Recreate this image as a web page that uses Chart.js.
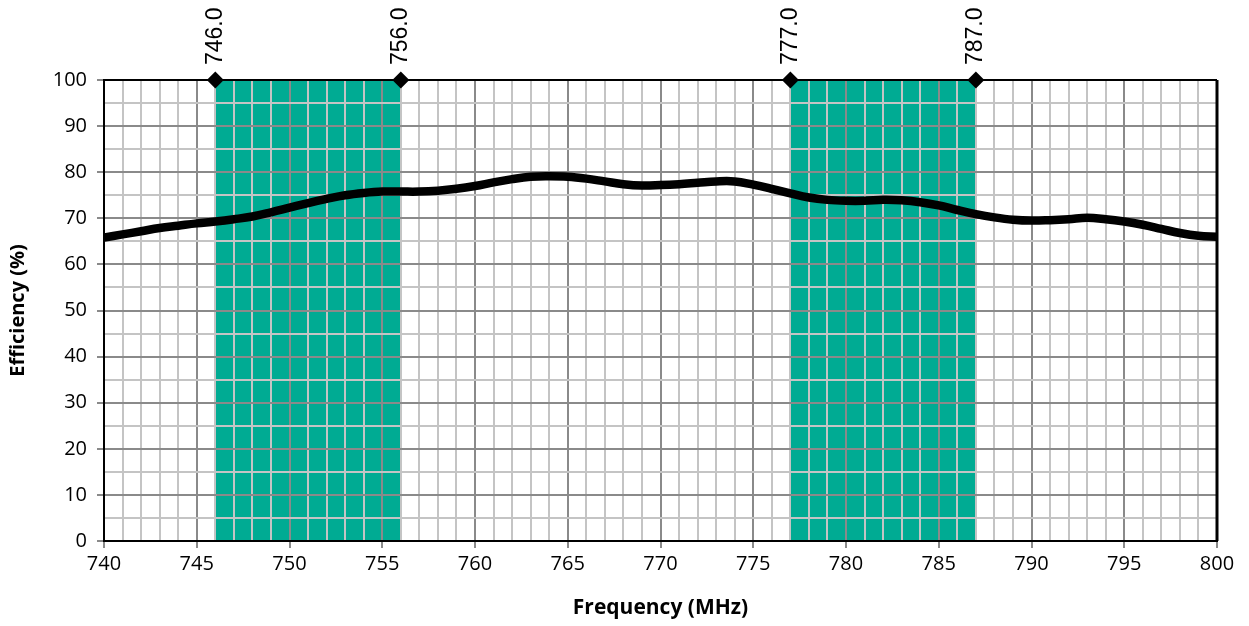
<!DOCTYPE html>
<html>
<head>
<meta charset="utf-8">
<script src="https://cdn.jsdelivr.net/npm/chart.js@4.4.1/dist/chart.umd.min.js"></script>
<style>
  html, body { margin: 0; padding: 0; background: #fff; }
  #wrap { width: 1249px; height: 626px; }
</style>
</head>
<body>
<div id="wrap"><canvas id="effChart"></canvas></div>
<script>
// ── data ──
const freqs = [
  740,741,742,743,744,745,746,747,748,749,750,751,752,753,754,755,756,757,758,759,760,
  761,762,763,764,765,766,767,768,769,770,771,772,773,774,775,776,777,778,779,780,
  781,782,783,784,785,786,787,788,789,790,791,792,793,794,795,796,797,798,799,800
];
const efficiency = [
  65.8,66.5,67.2,67.9,68.4,68.9,69.3,69.8,70.4,71.3,72.3,73.3,74.2,75.0,75.5,75.8,75.8,75.8,76.0,76.4,77.0,
  77.8,78.5,79.0,79.1,79.0,78.6,78.0,77.4,77.1,77.2,77.4,77.7,78.0,78.0,77.3,76.4,75.4,74.5,74.0,73.8,
  73.8,74.0,73.9,73.5,72.8,71.8,70.9,70.2,69.7,69.5,69.6,69.8,70.1,69.8,69.3,68.6,67.7,66.8,66.2,66.0
];
const bandStarts = [746, 777];
const bandEnds   = [756, 787];
const markerFreqs = [746, 756, 777, 787];
const markerLabels = ['746.0', '756.0', '777.0', '787.0'];

const TEAL = '#00ab93';

// ── bands behind the grid, frame + marker labels on top ──
const bandsPlugin = {
  id: 'bands',
  beforeDraw(chart) {
    const { ctx, chartArea: a, scales: { x } } = chart;
    ctx.save();
    ctx.fillStyle = TEAL;
    bandStarts.forEach((s, i) => {
      const x0 = x.getPixelForValue(s), x1 = x.getPixelForValue(bandEnds[i]);
      ctx.fillRect(x0, a.top, x1 - x0, a.bottom - a.top);
    });
    ctx.restore();
  },
  afterDraw(chart) {
    const { ctx, chartArea: a, scales: { x } } = chart;
    ctx.save();
    ctx.strokeStyle = '#000';
    ctx.lineWidth = 2;
    ctx.beginPath();
    ctx.moveTo(a.left, a.top); ctx.lineTo(a.right, a.top);
    ctx.stroke();
    ctx.lineWidth = 3;
    ctx.beginPath();
    ctx.moveTo(a.right, a.top); ctx.lineTo(a.right, a.bottom);
    ctx.stroke();
    // diamonds
    ctx.fillStyle = '#000';
    markerFreqs.forEach(f => {
      const px = x.getPixelForValue(f), r = 8.5;
      ctx.beginPath();
      ctx.moveTo(px, a.top - r); ctx.lineTo(px + r, a.top);
      ctx.lineTo(px, a.top + r); ctx.lineTo(px - r, a.top);
      ctx.closePath(); ctx.fill();
    });
    // rotated labels
    ctx.font = '23px "Liberation Sans", Arial, sans-serif';
    ctx.textAlign = 'left';
    ctx.textBaseline = 'middle';
    markerFreqs.forEach((f, i) => {
      const px = x.getPixelForValue(f);
      ctx.save();
      ctx.translate(px, a.top - 15);
      ctx.rotate(-Math.PI / 2);
      ctx.fillText(markerLabels[i], 0, 0);
      ctx.restore();
    });
    ctx.restore();
  }
};

const gridColor = c => (c.tick && c.tick.major) ? '#8a8a8a' : '#c4c4c4';

new Chart(document.getElementById('effChart'), {
  type: 'line',
  data: {
    datasets: [{
      data: freqs.map((f, i) => ({ x: f, y: efficiency[i] })),
      borderColor: '#000', borderWidth: 8.5,
      pointRadius: 0, tension: 0.4, fill: false
    }]
  },
  options: {
    responsive: true, maintainAspectRatio: false,
    animation: false,
    layout: { padding: { top: 80, right: 32, left: 0, bottom: 0 } },
    plugins: { legend: { display: false }, tooltip: { enabled: false } },
    scales: {
      x: {
        type: 'linear', min: 740, max: 800,
        afterFit: s => { s.height = 85; },
        afterBuildTicks: s => { s.ticks.forEach(t => { t.major = t.value % 5 === 0; }); },
        ticks: {
          stepSize: 1, autoSkip: false, maxRotation: 0, padding: 4,
          color: '#000', font: { family: '"Open Sans", sans-serif', size: 20 },
          callback: v => v % 5 === 0 ? v : ''
        },
        grid: {
          color: gridColor, lineWidth: 2, tickLength: 7,
          tickColor: c => (c.tick && c.tick.value % 5 === 0) ? '#8a8a8a' : 'rgba(0,0,0,0)'
        },
        border: { color: '#000', width: 2 },
        title: {
          display: true, text: 'Frequency (MHz)', color: '#000',
          font: { family: '"Open Sans", sans-serif', size: 21, weight: 'bold' },
          padding: { top: 0, bottom: 5 }
        }
      },
      y: {
        min: 0, max: 100,
        afterFit: s => { s.width = 104; },
        afterBuildTicks: s => { s.ticks.forEach(t => { t.major = t.value % 10 === 0; }); },
        ticks: {
          stepSize: 5, autoSkip: false, padding: 10,
          color: '#000', font: { family: '"Open Sans", sans-serif', size: 20 },
          callback: v => v % 10 === 0 ? v : ''
        },
        grid: {
          color: gridColor, lineWidth: 2, tickLength: 7,
          tickColor: c => (c.tick && c.tick.value % 10 === 0) ? '#8a8a8a' : 'rgba(0,0,0,0)'
        },
        border: { color: '#000', width: 2 },
        title: {
          display: true, text: 'Efficiency (%)', color: '#000',
          font: { family: '"Open Sans", sans-serif', size: 20, weight: 'bold' },
          padding: { top: 6, bottom: 0 }
        }
      }
    }
  },
  plugins: [bandsPlugin]
});
</script>
</body>
</html>
